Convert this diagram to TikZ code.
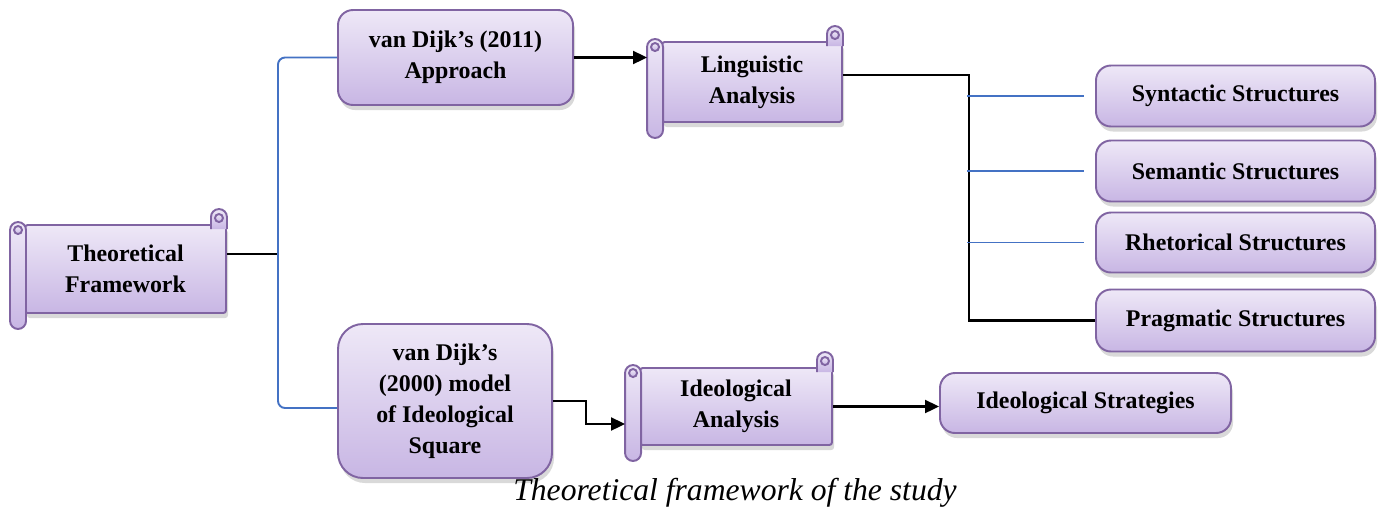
\documentclass[tikz,border=0pt]{standalone}
\usepackage{fontspec}
\setmainfont{Liberation Serif}[BoldFont={Liberation Serif Bold}, ItalicFont={Liberation Serif Italic}]
\usepackage{tikz}
\usetikzlibrary{calc,arrows.meta,positioning,shadows}
\definecolor{boxline}{RGB}{128,100,162}
\definecolor{boxtop}{RGB}{238,232,247}
\definecolor{boxbot}{RGB}{200,182,228}
\definecolor{linkblue}{RGB}{68,114,196}

% rolled edges of a scroll node
\newcommand{\scrollparts}[1]{%
  \draw[part, rounded corners=0.16cm] ([xshift=-0.28cm,yshift=0.04cm]#1.north west) rectangle ([xshift=0.04cm,yshift=-0.3cm]#1.south west);
  \draw[part, fill=gray!45] ([xshift=-0.12cm,yshift=-0.12cm]#1.north west) circle (0.08);
  \draw[part] ([yshift=-0.1cm]#1.north east) -- ([yshift=0.14cm]#1.north east)
      arc[start angle=0, end angle=180, radius=0.16cm] -- ([xshift=-0.32cm,yshift=-0.1cm]#1.north east);
  \draw[part, fill=gray!45] ([xshift=-0.16cm,yshift=0.12cm]#1.north east) circle (0.08);
}

\begin{document}
\begin{tikzpicture}[font=\bfseries\fontsize{13.6}{17.6}\selectfont,
      box/.style={draw=boxline, line width=1.1pt, top color=boxtop, bottom color=boxbot,
                  align=center, inner sep=2pt,
                  drop shadow={shadow xshift=0.4mm, shadow yshift=-1mm, opacity=0.3}},
      roundbox/.style={box, rounded corners=0.3cm},
      scroll/.style={box, rounded corners=1.5pt},
      part/.style={draw=boxline, line width=1.1pt, top color=boxtop, bottom color=boxbot},
      conn/.style={line width=1.2pt, black},
      arr/.style={conn, -{Triangle[length=2.8mm, width=2.6mm]}},
      blueline/.style={line width=1.1pt, linkblue}]
    \useasboundingbox (0,0) rectangle (27.6,-10.24);
    \node[scroll, minimum width=4.02cm, minimum height=1.76cm] (tf) at (2.51, -5.38) {Theoretical\\Framework};
    \node[roundbox, minimum width=4.7cm, minimum height=1.9cm] (v11) at (9.11, -1.15) {van Dijk’s (2011)\\Approach};
    \node[roundbox, rounded corners=0.5cm, minimum width=4.28cm, minimum height=3.08cm] (v00) at (8.9, -8.02) {van Dijk’s\\(2000) model\\of Ideological\\Square};
    \node[scroll, minimum width=3.6cm, minimum height=1.6cm] (ling) at (15.04, -1.64) {Linguistic\\Analysis};
    \node[scroll, minimum width=3.84cm, minimum height=1.54cm] (ideo) at (14.72, -8.13) {Ideological\\Analysis};
    \node[roundbox, minimum width=5.58cm, minimum height=1.22cm] (syn) at (24.71, -1.92) {Syntactic Structures};
    \node[roundbox, minimum width=5.58cm, minimum height=1.22cm] (sem) at (24.71, -3.42) {Semantic Structures};
    \node[roundbox, minimum width=5.58cm, minimum height=1.2cm] (rhe) at (24.71, -4.85) {Rhetorical Structures};
    \node[roundbox, minimum width=5.58cm, minimum height=1.24cm] (prag) at (24.71, -6.41) {Pragmatic Structures};
    \node[roundbox, minimum width=5.82cm, minimum height=1.2cm] (strat) at (21.71, -8.06) {Ideological Strategies};
    \node[font=\itshape\fontsize{18}{22}\selectfont] (cap) at (14.7, -9.86) {Theoretical framework of the study};
    \foreach \s in {tf, ling, ideo} {\scrollparts{\s}}
    \coordinate (j) at (5.56, -5.08);
    \coordinate (k) at (19.38, -1.5);
    \coordinate (lingin) at ([xshift=-0.28cm]ling.west);
    \coordinate (ideoin) at ([xshift=-0.28cm, yshift=-0.35cm]ideo.west);
    \draw[conn] (tf.east |- j) -- (j);
    \draw[blueline, rounded corners=4pt] (v11.west) -| (j) |- ([yshift=-0.14cm]v00.west);
    \draw[arr] (v11.east) -- (lingin |- v11.east);
    \draw[conn] (ling.east |- k) -- (k) |- (prag.west);
    \foreach \n in {syn, sem, rhe} {\draw[blueline] ([xshift=-0.04cm]k |- \n.west) -- ([xshift=-0.22cm]\n.west);}
    \draw[arr] (v00.east) -- ++(0.66,0) |- (ideoin);
    \draw[arr] (ideo.east) -- (ideo.east -| strat.west);
  \end{tikzpicture}
\end{document}
